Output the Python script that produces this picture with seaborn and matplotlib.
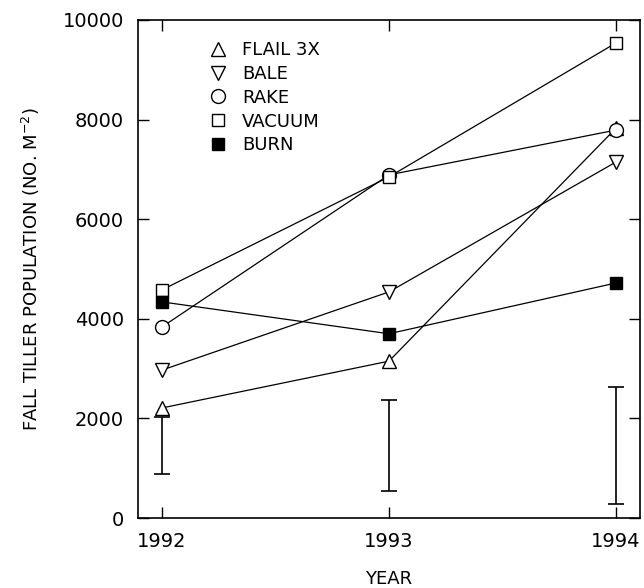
import matplotlib
matplotlib.use("Agg")
import matplotlib.pyplot as plt
import seaborn as sns
from matplotlib.lines import Line2D

# values (tillers per m2)
years = [1992, 1993, 1994]
flail_3x = [2210, 3150, 7830]
bale = [2970, 4540, 7150]
rake = [3835, 6890, 7790]
vacuum = [4580, 6850, 9540]
burn = [4340, 3700, 4720]

# LSD bars, lower and upper ends
lsd_low = [890, 540, 280]
lsd_high = [2030, 2360, 2640]

sns.set_style("ticks")
plt.rcParams['font.family'] = ['DejaVu Sans']
plt.rcParams.update({"text.color": "black", "axes.labelcolor": "black",
                     "xtick.color": "black", "ytick.color": "black",
                     "axes.edgecolor": "black"})

fig = plt.figure(figsize=(6.44, 5.88), dpi=100)
ax = fig.add_axes([0.214, 0.119, 0.78, 0.847])

series = [
    ("FLAIL 3X", flail_3x, "^", "white", 10),
    ("BALE", bale, "v", "white", 10),
    ("RAKE", rake, "o", "white", 10),
    ("VACUUM", vacuum, "s", "white", 9),
    ("BURN", burn, "s", "black", 9),
]

handles = []
for name, vals, mk, fc, ms in series:
    sns.lineplot(x=years, y=vals, ax=ax, color="black", linewidth=0.9,
                 marker=mk, markersize=ms, markerfacecolor=fc,
                 markeredgecolor="black", markeredgewidth=1.0, zorder=3)
    handles.append(Line2D([], [], linestyle="none", marker=mk, markersize=ms,
                          markerfacecolor=fc, markeredgecolor="black",
                          markeredgewidth=1.0, label=name))

# LSD error bars
mid = [(lo + hi) / 2 for lo, hi in zip(lsd_low, lsd_high)]
err = [[m - lo for m, lo in zip(mid, lsd_low)], [hi - m for m, hi in zip(mid, lsd_high)]]
ax.errorbar(years, mid, yerr=err, fmt="none", ecolor="black", elinewidth=1.2,
            capsize=6, capthick=1.2)

ax.set_xlim(1991.894, 1994.106)
ax.set_ylim(0, 10000)
ax.set_xticks(years)
ax.set_xticklabels([str(y) for y in years])
ax.set_yticks(range(0, 10001, 2000))
ax.tick_params(direction="in", length=8, width=1.0, top=True, right=True,
               labelsize=14, pad=10)
for s in ax.spines.values():
    s.set_linewidth(1.2)
    s.set_visible(True)

ax.set_xlabel("YEAR", fontsize=13, labelpad=14)
ax.set_ylabel("FALL TILLER POPULATION (NO. M$^{-2}$)", fontsize=13, labelpad=15)

ax.legend(handles=handles, loc="upper left", bbox_to_anchor=(0.1, 0.99),
          frameon=False, fontsize=13, handletextpad=0.6, labelspacing=0.32,
          handlelength=1.5)

fig.savefig("out.png", dpi=100)
